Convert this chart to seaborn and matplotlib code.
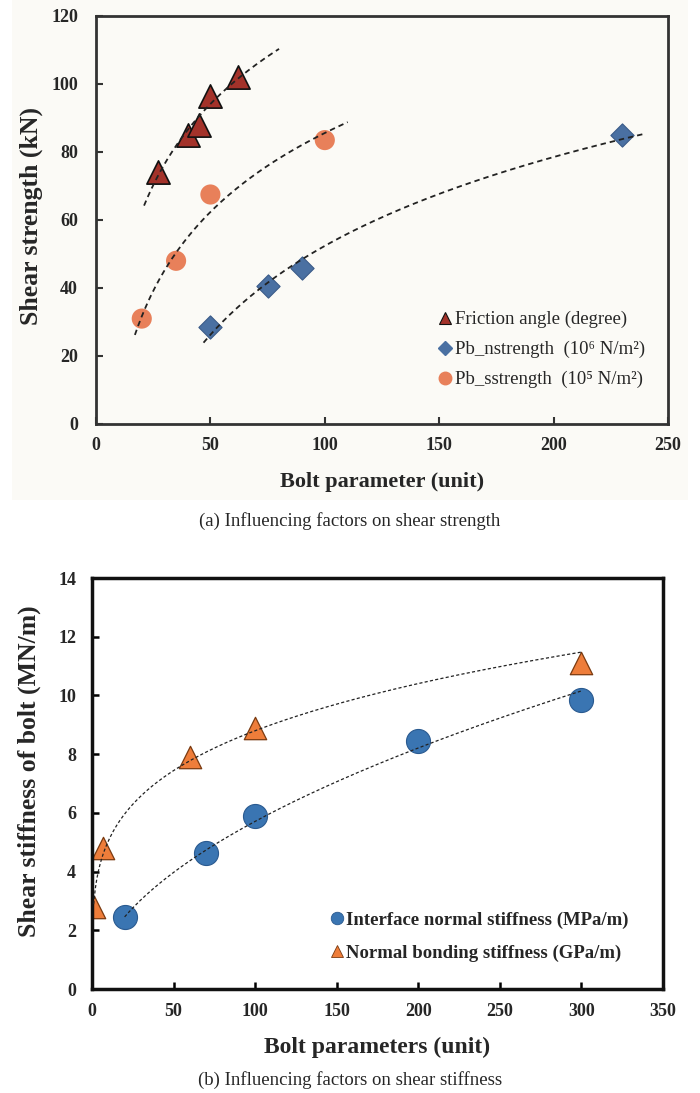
import numpy as np
import pandas as pd
import matplotlib
matplotlib.use("Agg")
import matplotlib.pyplot as plt
from matplotlib.lines import Line2D
from matplotlib.patches import Rectangle
import seaborn as sns

# ---------------- data: panel (a) ----------------
fric_x = [27, 40, 45, 50, 62]
fric_y = [74, 85, 88, 96.5, 102]
pbn_x = [50, 75, 90, 230]
pbn_y = [28.5, 40.5, 46, 85]
pbs_x = [20, 35, 50, 100]
pbs_y = [31, 48, 67.5, 83.5]

# ---------------- data: panel (b) ----------------
ins_x = [20, 70, 100, 200, 300]
ins_y = [2.45, 4.62, 5.88, 8.45, 9.85]
nbs_x = [1, 7, 60, 100, 300]
nbs_y = [2.8, 4.8, 7.9, 8.9, 11.1]

a_xticks = [0, 50, 100, 150, 200, 250]
a_yticks = [0, 20, 40, 60, 80, 100, 120]
b_xticks = [0, 50, 100, 150, 200, 250, 300, 350]
b_yticks = [0, 2, 4, 6, 8, 10, 12, 14]

sns.set_theme(style="white")
plt.rcParams['font.family'] = ['Liberation Serif', 'DejaVu Serif']

fig = plt.figure(figsize=(7, 10.93), dpi=100)
W, H = 700, 1093

# off-white panel behind (a)
fig.patches.append(Rectangle((12 / W, 1 - 500 / H), 676 / W, 500 / H,
                             transform=fig.transFigure, facecolor='#fbfaf6',
                             edgecolor='none', zorder=-5))

def log_trend(x, y, lo, hi):
    k, b = np.polyfit(np.log(x), y, 1)
    xs = np.linspace(lo, hi, 200)
    return pd.DataFrame({'x': xs, 'y': k * np.log(xs) + b})

def pow_trend(x, y, lo, hi):
    k, b = np.polyfit(np.log(x), np.log(y), 1)
    xs = np.linspace(lo, hi, 300)
    return pd.DataFrame({'x': xs, 'y': np.exp(b) * xs ** k})

# ================= panel (a) =================
ax1 = fig.add_axes([96 / W, 1 - 424 / H, 572 / W, 408 / H])
ax1.set_facecolor('#fbfaf6')
dash_a = dict(color='#222222', lw=1.3, dashes=(3, 2.2))
for df in [log_trend(fric_x, fric_y, 21, 80),
           log_trend(pbs_x, pbs_y, 17, 110),
           log_trend(pbn_x, pbn_y, 47, 240)]:
    sns.lineplot(data=df, x='x', y='y', ax=ax1, zorder=3, **dash_a)

sns.scatterplot(x=pbs_x, y=pbs_y, ax=ax1, marker='o', s=210,
                color='#e8805a', edgecolor='none', zorder=2)
sns.scatterplot(x=pbn_x, y=pbn_y, ax=ax1, marker='D', s=140,
                color='#4a70a2', edgecolor='#3a5a88', linewidth=0.8, zorder=2)
sns.scatterplot(x=fric_x, y=fric_y, ax=ax1, marker='^', s=280,
                color='#a3322a', edgecolor='#111111', linewidth=1.2, zorder=2)

ax1.set_xlim(0, 250)
ax1.set_ylim(0, 120)
ax1.set_xticks(a_xticks)
ax1.set_yticks(a_yticks)
ax1.tick_params(direction='in', length=5, width=1.5, color='#333333',
                labelsize=13, bottom=True, left=True)
ax1.tick_params(axis='x', pad=9)
ax1.tick_params(axis='y', pad=13)
for lab in ax1.get_xticklabels() + ax1.get_yticklabels():
    lab.set_fontweight('bold')
for s in ax1.spines.values():
    s.set_color('#333333')
    s.set_linewidth(2)
ax1.set_xlabel('Bolt parameter (unit)', fontsize=16, fontweight='bold')
ax1.set_ylabel('Shear strength (kN)', fontsize=18.5, fontweight='bold')
ax1.xaxis.set_label_coords(0.5, -0.118)
ax1.yaxis.set_label_coords(-0.093, 0.51)

h_a = [Line2D([], [], ls='none', marker='^', ms=9, mfc='#a3322a', mec='#111111', mew=0.8),
       Line2D([], [], ls='none', marker='D', ms=7, mfc='#4a70a2', mec='#4a70a2'),
       Line2D([], [], ls='none', marker='o', ms=9, mfc='#e8805a', mec='#e8805a')]
l_a = ['Friction angle (degree)',
       'Pb_nstrength  (10⁶ N/m²)',
       'Pb_sstrength  (10⁵ N/m²)']
leg1 = ax1.legend(h_a, l_a, loc='upper left', bbox_to_anchor=(0.582, 0.3),
                  frameon=False, fontsize=13.5, handlelength=0.75,
                  handletextpad=0.12, labelspacing=0.68, borderpad=0)

# ================= panel (b) =================
ax2 = fig.add_axes([92 / W, 1 - 989 / H, 571 / W, 411 / H])
ax2.set_facecolor('white')
dash_b = dict(color='#222222', lw=0.9, dashes=(2.5, 1.8))
for df in [pow_trend(nbs_x, nbs_y, 1, 300),
           pow_trend(ins_x, ins_y, 20, 300)]:
    sns.lineplot(data=df, x='x', y='y', ax=ax2, zorder=3, **dash_b)

sns.scatterplot(x=ins_x, y=ins_y, ax=ax2, marker='o', s=300,
                color='#3a75b2', edgecolor='#2a5a90', linewidth=0.8, zorder=2)
sns.scatterplot(x=nbs_x, y=nbs_y, ax=ax2, marker='^', s=260,
                color='#ee7d3a', edgecolor='#7a3a10', linewidth=0.9, zorder=2)

ax2.set_xlim(0, 350)
ax2.set_ylim(0, 14)
ax2.set_xticks(b_xticks)
ax2.set_yticks(b_yticks)
ax2.tick_params(direction='in', length=5, width=1.8, color='black',
                labelsize=13, bottom=True, left=True)
ax2.tick_params(axis='x', pad=10)
ax2.tick_params(axis='y', pad=11.5)
for lab in ax2.get_xticklabels() + ax2.get_yticklabels():
    lab.set_fontweight('bold')
for s in ax2.spines.values():
    s.set_color('#111111')
    s.set_linewidth(2.5)
ax2.set_xlabel('Bolt parameters (unit)', fontsize=17, fontweight='bold')
ax2.set_ylabel('Shear stiffness of bolt (MN/m)', fontsize=18.5, fontweight='bold')
ax2.xaxis.set_label_coords(0.5, -0.117)
ax2.yaxis.set_label_coords(-0.089, 0.53)

h_b = [Line2D([], [], ls='none', marker='o', ms=9, mfc='#3a75b2', mec='#2a5a90', mew=0.6),
       Line2D([], [], ls='none', marker='^', ms=9, mfc='#ee7d3a', mec='#7a3a10', mew=0.6)]
l_b = ['Interface normal stiffness (MPa/m)', 'Normal bonding stiffness (GPa/m)']
leg2 = ax2.legend(h_b, l_b, loc='upper left', bbox_to_anchor=(0.4, 0.212),
                  frameon=False, handlelength=0.75, handletextpad=0.12,
                  labelspacing=0.85, borderpad=0,
                  prop={'size': 13.5, 'weight': 'bold'})

# captions
fig.text(0.5, 1 - 521 / H, '(a) Influencing factors on shear strength',
         ha='center', va='center', fontsize=13.5)
fig.text(0.5, 1 - 1080 / H, '(b) Influencing factors on shear stiffness',
         ha='center', va='center', fontsize=13.5)

fig.savefig('out.png', dpi=100)
